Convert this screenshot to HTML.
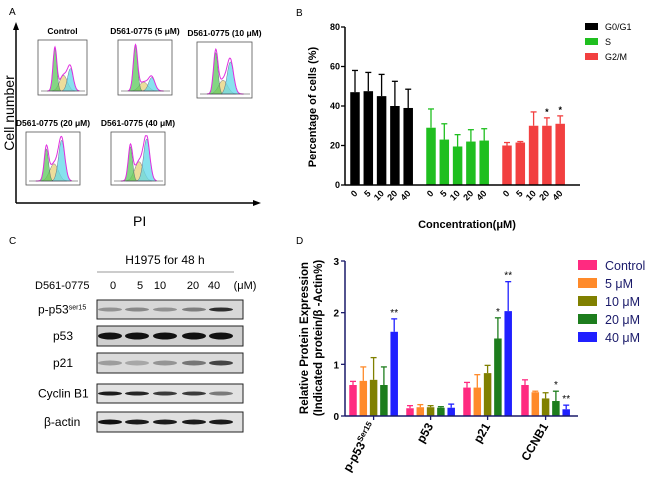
<!DOCTYPE html>
<html><head><meta charset="utf-8"><style>
html,body{margin:0;padding:0;background:#fff;}
svg{display:block;font-family:"Liberation Sans",Arial,sans-serif;}
</style></head><body>
<svg id="fig" width="650" height="480" viewBox="0 0 650 480">
<g id="panelA">
<text x="9" y="15" font-size="10">A</text>
<line x1="16" y1="203" x2="16" y2="28" stroke="#000" stroke-width="1.5"/>
<polygon points="16,22 13,30 19,30" fill="#000"/>
<line x1="16" y1="203" x2="254" y2="203" stroke="#000" stroke-width="1.5"/>
<polygon points="261,203 253,200 253,206" fill="#000"/>
<text transform="translate(14,113) rotate(-90)" text-anchor="middle" font-size="14">Cell number</text>
<text x="133" y="226" font-size="14">PI</text>
</g>
<g id="panelB">
<text x="296" y="16" font-size="10">B</text>
<text transform="translate(316,107) rotate(-90)" text-anchor="middle" font-size="11" font-weight="bold">Percentage of cells (%)</text>
<text x="467" y="228" text-anchor="middle" font-size="11" font-weight="bold">Concentration(μM)</text>
</g>
<g id="panelC">
<text x="9" y="244" font-size="10">C</text>
<text x="165" y="264" text-anchor="middle" font-size="12">H1975 for 48 h</text>
<line x1="97" y1="272" x2="234" y2="272" stroke="#999" stroke-width="1"/>
<text x="35" y="289" font-size="11">D561-0775</text>
</g>
<g id="panelD">
<text x="296" y="244" font-size="10">D</text>
<text transform="translate(308,338) rotate(-90)" text-anchor="middle" font-size="11.5" font-weight="bold">Relative Protein Expression</text>
<text transform="translate(322,338) rotate(-90)" text-anchor="middle" font-size="11.5" font-weight="bold">(Indicated protein/β -Actin%)</text>
</g>
</svg>
<script>
const NS="http://www.w3.org/2000/svg";
function mk(tag,attrs,parent,text){const e=document.createElementNS(NS,tag);for(const k in attrs)e.setAttribute(k,attrs[k]);if(text!==undefined)e.textContent=text;parent.appendChild(e);return e;}

/* ---------- Panel B data ---------- */
const bConcs=["0","5","10","20","40"];
const bPhases=["G0/G1","S","G2/M"];
const bG1=[47,47.5,45,40,39];
const bG1Err=[58,57,56,52.5,48.5];
const bS=[29,23,19.5,22,22.5];
const bSErr=[38.5,31,25.5,28,28.5];
const bG2=[20,21.5,30,30,31];
const bG2Err=[21.5,22,37,34,35];
const bG2Stars=["","","","*","*"];
const bTicks=[0,20,40,60,80];

/* ---------- Panel D data ---------- */
const dProteins=["p-p53","p53","p21","CCNB1"];
const dDoses=["Control","5 μM","10 μM","20 μM","40 μM"];
const dControl=[0.6,0.15,0.55,0.6];
const dControlErr=[0.67,0.2,0.65,0.7];
const d5=[0.68,0.17,0.55,0.46];
const d5Err=[0.95,0.22,0.8,0.48];
const d10=[0.7,0.17,0.83,0.34];
const d10Err=[1.13,0.2,0.98,0.45];
const d20=[0.6,0.16,1.5,0.29];
const d20Err=[0.95,0.18,1.9,0.48];
const d40=[1.63,0.16,2.03,0.13];
const d40Err=[1.88,0.23,2.6,0.21];
const d20Stars=["","","*","*"];
const d40Stars=["**","","**","**"];
const dTicks=[0,1,2,3];

/* ---------- Panel B drawing ---------- */
(function(){
const g=document.getElementById('panelB');
const x0=345,x1=580,yb=185,yt=27;
const y=v=>yb-(v/80)*(yb-yt);
const groupStart=[355,431,507], step=13.3, bw=9.5;
const colors=["#000","#1fbf1f","#f24040"];
const vals=[bG1,bS,bG2], errs=[bG1Err,bSErr,bG2Err];
vals.forEach((arr,gi)=>{
 arr.forEach((v,i)=>{
  const cx=groupStart[gi]+i*step;
  const r=mk('rect',{x:cx-bw/2,y:y(v),width:bw,height:yb-y(v),fill:colors[gi]},g);
  
  
  mk('line',{x1:cx,y1:y(v),x2:cx,y2:y(errs[gi][i]),stroke:colors[gi],'stroke-width':1.3},g);
  mk('line',{x1:cx-3,y1:y(errs[gi][i]),x2:cx+3,y2:y(errs[gi][i]),stroke:colors[gi],'stroke-width':1.3},g);
  const t=mk('text',{transform:'translate('+(cx+3)+','+(yb+9)+') rotate(-45)','text-anchor':'end','font-size':9,'font-weight':'bold'},g,bConcs[i]);
  
  
  if(gi===2&&bG2Stars[i]){mk('text',{x:cx,y:y(errs[gi][i])-3,'text-anchor':'middle','font-size':9,'font-weight':'bold'},g,bG2Stars[i]);}
 });
});
mk('line',{x1:x0,y1:yt,x2:x0,y2:yb,stroke:'#000','stroke-width':1.5},g);
mk('line',{x1:x0,y1:yb,x2:x1,y2:yb,stroke:'#000','stroke-width':1.5},g);
bTicks.forEach(t=>{
 mk('line',{x1:x0-4,y1:y(t),x2:x0,y2:y(t),stroke:'#000','stroke-width':1.3},g);
 const tl=mk('text',{x:x0-5,y:y(t)+3,'text-anchor':'end','font-size':9,'font-weight':'bold'},g,String(t));
 
 
});
bPhases.forEach((p,i)=>{
 const ly=27+i*15;
 const s=mk('rect',{x:585,y:ly-4,width:13,height:7,fill:colors[i]},g);
 
 
 const lt=mk('text',{x:605,y:ly+3,'font-size':9},g,p);
 
 
});
})();

/* ---------- Panel D drawing ---------- */
(function(){
const g=document.getElementById('panelD');
const x0=345,x1=578,yb=416,yt=261,navy="#1a1a6a";
const y=v=>yb-(v/3)*(yb-yt);
const groupStart=[353,410,467,525],step=10.3,bw=7.5;
const colors=["#ff2a80","#ff8a2a","#808000","#1d7d1d","#2020ff"];
const vals=[dControl,d5,d10,d20,d40],errs=[dControlErr,d5Err,d10Err,d20Err,d40Err];
vals.forEach((arr,di)=>{
 arr.forEach((v,pi)=>{
  const cx=groupStart[pi]+di*step;
  const r=mk('rect',{x:cx-bw/2,y:y(v),width:bw,height:yb-y(v),fill:colors[di]},g);
  
  
  mk('line',{x1:cx,y1:y(v),x2:cx,y2:y(errs[di][pi]),stroke:colors[di],'stroke-width':1.3},g);
  mk('line',{x1:cx-3,y1:y(errs[di][pi]),x2:cx+3,y2:y(errs[di][pi]),stroke:colors[di],'stroke-width':1.3},g);
  const st=di===3?d20Stars[pi]:(di===4?d40Stars[pi]:"");
  if(st){mk('text',{x:cx,y:y(errs[di][pi])-3,'text-anchor':'middle','font-size':10},g,st);}
 });
});
mk('line',{x1:x0,y1:yt,x2:x0,y2:yb,stroke:navy,'stroke-width':1.5},g);
mk('line',{x1:x0,y1:yb,x2:x1,y2:yb,stroke:navy,'stroke-width':1.5},g);
dTicks.forEach(t=>{
 mk('line',{x1:x0-4,y1:y(t),x2:x0,y2:y(t),stroke:navy,'stroke-width':1.3},g);
 const tl=mk('text',{x:x0-6,y:y(t)+4,'text-anchor':'end','font-size':10,'font-weight':'bold'},g,String(t));
 
 
});
dProteins.forEach((p,pi)=>{
 const cx=groupStart[pi]+2*step;
 mk('line',{x1:cx,y1:yb,x2:cx,y2:yb+4,stroke:navy,'stroke-width':1.3},g);
 const t=mk('text',{transform:'translate('+(cx+3)+','+(yb+10)+') rotate(-60)','text-anchor':'end','font-size':12,'font-weight':'bold'},g);
 
 
 if(p==="p-p53"){t.textContent="p-p53";mk('tspan',{'font-size':8,dy:-5},t,"Ser15");}
 else t.textContent=p;
});
dDoses.forEach((d,i)=>{
 const ly=265+i*18;
 const s=mk('rect',{x:578,y:ly-5,width:19,height:10,fill:colors[i]},g);
 
 
 const lt=mk('text',{x:605,y:ly+5,'font-size':12.5,fill:navy},g,d);
 
 
});
})();

/* ---------- Panel A histograms ---------- */
(function(){
const g=document.getElementById('panelA');
const hists=[
 {t:"Control",x:38,y:40,w:49,h:55,g1:0.3,g1h:0.95,s:0.5,sh:0.35,g2:0.66,g2h:0.5},
 {t:"D561-0775 (5 μM)",x:118,y:40,w:54,h:55,g1:0.28,g1h:1.0,s:0.45,sh:0.2,g2:0.62,g2h:0.3},
 {t:"D561-0775 (10 μM)",x:197,y:42,w:55,h:56,g1:0.3,g1h:0.9,s:0.45,sh:0.3,g2:0.6,g2h:0.7},
 {t:"D561-0775 (20 μM)",x:26,y:132,w:54,h:53,g1:0.34,g1h:0.75,s:0.5,sh:0.4,g2:0.66,g2h:0.95},
 {t:"D561-0775 (40 μM)",x:111,y:132,w:54,h:53,g1:0.32,g1h:0.8,s:0.5,sh:0.45,g2:0.66,g2h:0.98}
];
function gauss(t,c,sd){const z=(t-c)/sd;return Math.exp(-z*z/2);}
hists.forEach((d,i)=>{
 const hg=mk('g',{},g);
 
 
 mk('text',{x:d.x+d.w/2,y:d.y-6,'text-anchor':'middle','font-size':8.5,'font-weight':'bold'},hg,d.t);
 mk('rect',{x:d.x,y:d.y,width:d.w,height:d.h,fill:'#fff',stroke:'#555','stroke-width':0.8},hg);
 const bx=d.x+4,bw=d.w-6,by=d.y+d.h-4,bh=d.h-10;
 function peak(c,hgt,sd,fill){
  let p='M'+(bx+(c-3*sd)*bw)+','+by;
  for(let k=-3;k<=3;k+=0.25){const xx=bx+(c+k*sd)*bw;const yy=by-hgt*bh*Math.exp(-k*k/2);p+=' L'+xx.toFixed(1)+','+yy.toFixed(1);}
  p+=' L'+(bx+(c+3*sd)*bw)+','+by+' Z';
  mk('path',{d:p,fill:fill,stroke:'#557','stroke-width':0.4,'fill-opacity':0.75},hg);
 }
 peak(d.s,d.sh,0.09,'#e6d27a');
 peak(d.g2,d.g2h,0.065,'#5fd8e8');
 peak(d.g1,d.g1h,0.045,'#5ac85a');
 let p="";
 for(let k=0;k<=70;k++){const t=0.12+k*0.0107;const v=d.g1h*gauss(t,d.g1,0.045)+d.sh*gauss(t,d.s,0.09)+d.g2h*gauss(t,d.g2,0.065);
  p+=(k?" L":"M")+(bx+t*bw).toFixed(1)+","+(by-Math.min(v,1.05)*bh).toFixed(1);}
 mk('path',{d:p,fill:'none',stroke:'#e030e0','stroke-width':1},hg);
 mk('line',{x1:d.x+3,y1:by,x2:d.x+d.w-2,y2:by,stroke:'#333','stroke-width':0.6},hg);
});
})();

/* ---------- Panel C blots ---------- */
(function(){
const g=document.getElementById('panelC');
const lanes=["0","5","10","20","40"];
const laneX=[113,140,160,193,214];
lanes.forEach((l,i)=>{mk('text',{x:laneX[i],y:289,'text-anchor':'middle','font-size':11},g,l);});
mk('text',{x:245,y:289,'text-anchor':'middle','font-size':11},g,"(μM)");
const rows=[
 {n:"p-p53",y:300,h:19,bg:"#d8d8d8",band:[0.35,0.4,0.35,0.45,0.85],bh:4},
 {n:"p53",y:326,h:20,bg:"#cfcfcf",band:[1,1,1,1,1],bh:7},
 {n:"p21",y:353,h:20,bg:"#dadada",band:[0.3,0.25,0.35,0.5,0.75],bh:5},
 {n:"Cyclin B1",y:384,h:19,bg:"#e2e2e2",band:[0.95,0.9,0.8,0.8,0.5],bh:4},
 {n:"β-actin",y:412,h:20,bg:"#e0e0e0",band:[1,0.95,0.95,0.95,0.95],bh:5}
];
const bandX=[110,137,165,194,221];
rows.forEach(r=>{
 const rg=mk('g',{},g);
 
 
 const lx=r.n==="p-p53"?38:(r.n==="Cyclin B1"?38:(r.n==="β-actin"?44:53));
 const lbl=mk('text',{x:lx,y:r.y+r.h/2+4,'font-size':12},rg);
 if(r.n==="p-p53"){lbl.textContent="p-p53";mk('tspan',{'font-size':7,dy:-4},lbl,"ser15");}else lbl.textContent=r.n;
 mk('rect',{x:97,y:r.y,width:146,height:r.h,fill:r.bg,stroke:'#222','stroke-width':1},rg);
 r.band.forEach((a,i)=>{
  mk('ellipse',{cx:bandX[i],cy:r.y+r.h/2,rx:12,ry:r.bh/2,fill:'#111','fill-opacity':a},rg);
 });
});
})();
</script>
</body></html>
